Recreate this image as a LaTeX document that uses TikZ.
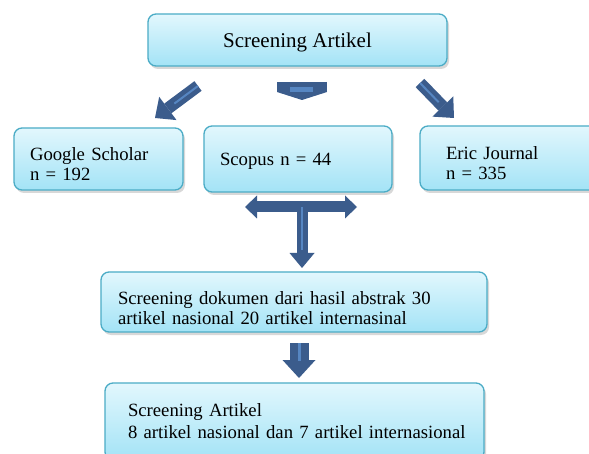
\documentclass[tikz,border=0pt]{standalone}
\usepackage{fontspec}
\setmainfont{Liberation Serif}
\usetikzlibrary{arrows.meta, shadows, calc}
\definecolor{LineA}{HTML}{4BACC6}
\definecolor{FillTop}{HTML}{E2F7FD}
\definecolor{FillBot}{HTML}{A3E3F6}
\definecolor{ArrA}{HTML}{3B5C8C}
\definecolor{ArrB}{HTML}{5686C2}
\tikzset{
  box/.style={draw=LineA, line width=1.3pt, rounded corners=8pt, top color=FillTop, bottom color=FillBot,
    inner xsep=0pt, align=left, font=\fontsize{18.7}{20.5}\selectfont,
    drop shadow={shadow xshift=2pt, shadow yshift=-3pt, opacity=0.3}},
  lower/.style={execute at begin node={\rule{0pt}{#1}}},
  blk/.style n args={3}{draw=ArrA, line width=#1, -{Triangle[width=#2, length=#3, line width=0pt]}},
  stripe/.style={draw=ArrB, line width=2pt}
}
\begin{document}
\begin{tikzpicture}[x=1pt, y=-1pt]
  \useasboundingbox (0,0) rectangle (589,454);
  \clip (0,0) rectangle (589,454);
  \fill[white] (0,0) rectangle (589,454);

  \node[box, minimum width=299pt, minimum height=52pt, align=center, text depth=0pt, font=\fontsize{21}{24}\selectfont] (top) at (297.5,40) {Screening Artikel};
  \node[box, minimum width=169pt, minimum height=62pt, text width=137pt, lower=23pt] (gs) at (98.5,159) {Google Scholar\\n = 192};
  \node[box, minimum width=188pt, minimum height=66pt, text width=156pt, text depth=0pt] (sc) at (298,159) {Scopus n = 44};
  \node[box, minimum width=190pt, minimum height=64pt, text width=138pt, lower=23pt] (ej) at (515,158) {Eric Journal\\n = 335};
  \node[box, minimum width=386pt, minimum height=60pt, text width=352pt, lower=25pt] (mid) at (294,302) {Screening dokumen dari hasil abstrak 30\\artikel nasional 20 artikel internasinal};
  \node[box, minimum width=379pt, minimum height=77pt, text width=333pt, font=\fontsize{18.7}{22}\selectfont] (bot) at (294.5,421.5) {Screening Artikel\\\mbox{8 artikel nasional dan 7 artikel internasional}};

  % block arrows under the top box
  \coordinate (l1) at (198,86);
  \coordinate (l2) at (155,118);
  \coordinate (r1) at (420,83);
  \coordinate (r2) at (454,118);
  \coordinate (c1) at (302,82);
  \coordinate (c2) at (302,100);
  \draw[blk={12pt}{29pt}{16pt}] (l1) -- (l2);
  \draw[stripe] (l1) -- ($(l1)!0.55!(l2)$);
  \draw[blk={12pt}{29pt}{16pt}] (r1) -- (r2);
  \draw[stripe] (r1) -- ($(r1)!0.55!(r2)$);
  \draw[blk={50pt}{50pt}{8pt}] (c1) -- (c2);
  \fill[ArrB] (290,87) rectangle (313,92);

  % T arrow below Scopus
  \coordinate (h1) at (245,207);
  \coordinate (h2) at (357,207);
  \coordinate (v1) at (302,207);
  \coordinate (v2) at (302,268);
  \draw[draw=ArrA, line width=11pt, {Triangle[width=23pt, length=12pt, line width=0pt]}-{Triangle[width=23pt, length=12pt, line width=0pt]}] (h1) -- (h2);
  \draw[blk={11pt}{25pt}{15pt}] (v1) -- (v2);
  \draw[stripe, line width=1.5pt] (v1) -- ($(v1)!0.7!(v2)$);

  % arrow to the last box
  \coordinate (d1) at (299,343);
  \coordinate (d2) at (299,378);
  \draw[blk={19pt}{33pt}{18pt}] (d1) -- (d2);
  \draw[stripe, line width=3pt] (d1) -- ($(d1)!0.5!(d2)$);
\end{tikzpicture}
\end{document}
